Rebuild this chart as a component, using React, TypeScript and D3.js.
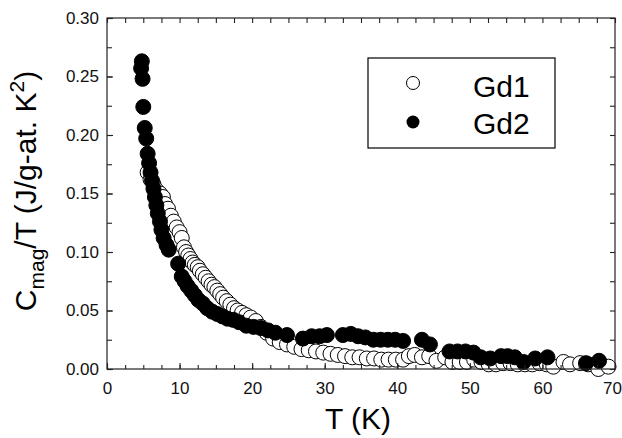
import React, { useEffect, useRef } from "react"
import * as d3 from "d3"

// Gd1 (open circles): [T (K), Cmag/T]
const gd1T = [5.6, 6.0, 6.4, 6.8, 7.3, 7.7, 8.0, 8.4, 8.8, 9.2, 9.6, 10.0, 10.3, 10.6, 10.9, 11.2, 11.5, 11.8, 12.1, 12.5, 12.8, 13.2, 13.6, 14.0, 14.4, 14.8, 15.2, 15.6, 16.0, 16.5, 17.0, 17.5, 18.0, 18.6, 19.2, 19.8, 20.5, 21.2, 22.0, 22.9, 23.8, 24.8, 25.8, 26.8, 27.8, 28.8, 29.8, 30.8, 31.8, 32.8, 33.8, 34.8, 35.8, 36.8, 37.8, 38.8, 39.8, 40.8, 41.6, 42.4, 43.4, 44.4, 45.4, 46.6, 47.6, 48.6, 49.6, 50.6, 51.6, 52.6, 53.6, 54.6, 55.6, 56.6, 57.6, 58.6, 59.6, 60.6, 61.5, 62.9, 63.8, 65.2, 66.3, 67.7, 69.1]
const gd1C = [0.168, 0.162, 0.158, 0.153, 0.150, 0.147, 0.141, 0.137, 0.131, 0.126, 0.121, 0.117, 0.112, 0.104, 0.100, 0.097, 0.094, 0.091, 0.089, 0.087, 0.084, 0.081, 0.078, 0.075, 0.072, 0.070, 0.067, 0.064, 0.061, 0.058, 0.055, 0.052, 0.050, 0.048, 0.046, 0.044, 0.041, 0.036, 0.031, 0.026, 0.023, 0.021, 0.019, 0.017, 0.016, 0.015, 0.014, 0.013, 0.012, 0.011, 0.010, 0.010, 0.009, 0.009, 0.008, 0.008, 0.008, 0.008, 0.011, 0.012, 0.010, 0.011, 0.007, 0.010, 0.006, 0.006, 0.006, 0.008, 0.006, 0.004, 0.004, 0.005, 0.005, 0.004, 0.004, 0.004, 0.005, 0.004, 0.002, 0.006, 0.004, 0.005, 0.004, 0.0, 0.002]

// Gd2 (filled circles)
const gd2T = [4.8, 4.7, 4.9, 5.0, 5.2, 5.4, 5.6, 5.8, 6.0, 6.2, 6.4, 6.6, 6.8, 7.0, 7.3, 7.5, 7.8, 8.2, 8.5, 9.8, 10.3, 10.7, 11.1, 11.6, 12.1, 12.6, 13.2, 13.8, 14.5, 15.2, 15.9, 16.6, 17.4, 18.2, 19.2, 20.2, 21.2, 22.2, 23.2, 24.8, 27.0, 28.2, 29.3, 30.3, 32.5, 33.6, 34.6, 35.6, 36.7, 37.7, 38.7, 39.7, 40.8, 43.4, 44.5, 47.2, 48.3, 49.4, 50.5, 51.5, 52.8, 54.3, 55.2, 56.2, 57.4, 59.0, 60.7, 66.0, 67.8]
const gd2C = [0.263, 0.257, 0.248, 0.224, 0.206, 0.197, 0.184, 0.176, 0.168, 0.161, 0.154, 0.147, 0.140, 0.133, 0.126, 0.119, 0.112, 0.106, 0.102, 0.090, 0.079, 0.075, 0.071, 0.067, 0.063, 0.059, 0.056, 0.052, 0.049, 0.047, 0.045, 0.043, 0.042, 0.040, 0.037, 0.036, 0.035, 0.033, 0.031, 0.029, 0.026, 0.028, 0.028, 0.029, 0.029, 0.030, 0.028, 0.027, 0.025, 0.025, 0.025, 0.025, 0.024, 0.025, 0.021, 0.015, 0.015, 0.015, 0.014, 0.010, 0.009, 0.011, 0.011, 0.010, 0.006, 0.009, 0.010, 0.005, 0.007]

const xTicks = [0, 10, 20, 30, 40, 50, 60, 70]
const yTicks = [0, 0.05, 0.1, 0.15, 0.2, 0.25, 0.3]

const width = 622
const height = 438
const margin = { top: 18, right: 7, bottom: 69, left: 107 }
const font = "'Liberation Sans', Arial, sans-serif"

const App = () => {
	const svgRef = useRef<SVGSVGElement>(null)

	useEffect(() => {
		const svg = d3.select(svgRef.current)

		const x = d3.scaleLinear().domain([0, 70]).range([margin.left, width - margin.right])
		const y = d3.scaleLinear().domain([0, 0.3]).range([height - margin.bottom, margin.top])

		const xMinor = d3.range(0, 70.01, 2.5)
		const yMinor = d3.range(0, 0.3001, 0.025)

		const clean = (g) => {
			g.select(".domain").remove()
			g.selectAll("line").attr("stroke", "#222").attr("stroke-width", 1.1)
			g.selectAll("text").attr("font-family", font).attr("font-size", 17).attr("fill", "#111")
		}

		// bottom
		svg.select(".x-minor")
			.attr("transform", `translate(0, ${height - margin.bottom})`)
			.call(d3.axisBottom(x).tickValues(xMinor).tickSize(-4).tickFormat(() => ""))
			.call(clean)
		svg.select(".x-axis")
			.attr("transform", `translate(0, ${height - margin.bottom})`)
			.call(d3.axisBottom(x).tickValues(xTicks).tickSize(-6).tickPadding(13).tickFormat(d3.format("d")))
			.call(clean)
			// last label sits on the page edge, nudge it in a little
			.call((g) => g.selectAll("text").filter((d) => d === 70).attr("dx", -3))
		// top
		svg.select(".x-top")
			.attr("transform", `translate(0, ${margin.top})`)
			.call(d3.axisTop(x).tickValues(xMinor).tickSize(-5).tickFormat(() => ""))
			.call(clean)
		// left
		svg.select(".y-minor")
			.attr("transform", `translate(${margin.left}, 0)`)
			.call(d3.axisLeft(y).tickValues(yMinor).tickSize(-5).tickFormat(() => ""))
			.call(clean)
		svg.select(".y-axis")
			.attr("transform", `translate(${margin.left}, 0)`)
			.call(d3.axisLeft(y).tickValues(yTicks).tickSize(-6).tickPadding(8).tickFormat(d3.format(".2f")))
			.call(clean)
		// right
		svg.select(".y-right")
			.attr("transform", `translate(${width - margin.right}, 0)`)
			.call(d3.axisRight(y).tickValues(yMinor).tickSize(-5).tickFormat(() => ""))
			.call(clean)

		const gd1 = gd1T.map((t, i) => ({ t, c: gd1C[i] }))
		const gd2 = gd2T.map((t, i) => ({ t, c: gd2C[i] }))

		svg.select(".gd1")
			.selectAll("circle")
			.data(gd1)
			.join("circle")
			.attr("cx", (d) => x(d.t))
			.attr("cy", (d) => y(d.c))
			.attr("r", 7.5)
			.attr("fill", "#fff")
			.attr("stroke", "#000")
			.attr("stroke-width", 1)

		svg.select(".gd2")
			.selectAll("circle")
			.data(gd2)
			.join("circle")
			.attr("cx", (d) => x(d.t))
			.attr("cy", (d) => y(d.c))
			.attr("r", 7.5)
			.attr("fill", "#000")
			.attr("stroke", "#000")
			.attr("stroke-width", 1)
	}, [])

	return (
		<svg
			ref={svgRef}
			width={width}
			height={height}
			style={{ position: "absolute", left: 0, top: 0, background: "#fff" }}
		>
			<g className="gd1"></g>
			<g className="gd2"></g>
			<rect
				x={margin.left}
				y={margin.top}
				width={width - margin.left - margin.right}
				height={height - margin.top - margin.bottom}
				fill="none"
				stroke="#222"
				strokeWidth={1.2}
			/>
			<g className="x-minor"></g>
			<g className="x-axis"></g>
			<g className="x-top"></g>
			<g className="y-minor"></g>
			<g className="y-axis"></g>
			<g className="y-right"></g>

			{/* legend */}
			<g>
				<rect x={368} y={58} width={187} height={90} fill="#fff" stroke="#000" strokeWidth={1.2} />
				<circle cx={413} cy={83} r={6.5} fill="#fff" stroke="#000" strokeWidth={1} />
				<circle cx={413} cy={122} r={6.5} fill="#000" />
				<text x={473} y={97} fontFamily={font} fontSize={30}>Gd1</text>
				<text x={473} y={134} fontFamily={font} fontSize={30}>Gd2</text>
			</g>

			<text x={358} y={429} textAnchor="middle" fontFamily={font} fontSize={30}>T (K)</text>
			<text
				transform="translate(36, 191) rotate(-90)"
				textAnchor="middle"
				fontFamily={font}
				fontSize={30}
			>
				C<tspan fontSize={21} dy={8}>mag</tspan>
				<tspan dy={-8}>/T (J/g-at. K</tspan>
				<tspan fontSize={21} dy={-12}>2</tspan>
				<tspan dy={12}>)</tspan>
			</text>
		</svg>
	)
}

export default App
